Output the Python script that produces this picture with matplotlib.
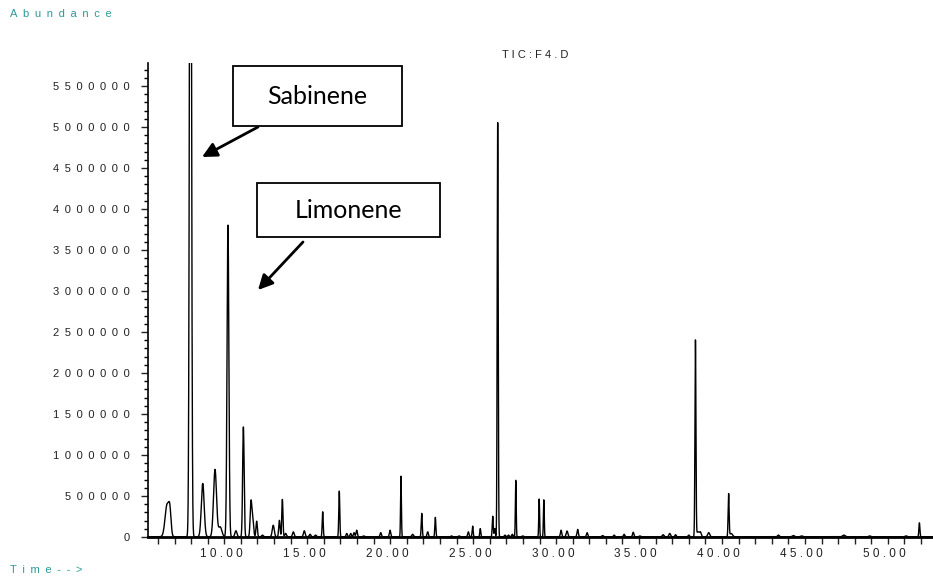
import numpy as np
import matplotlib
matplotlib.use('Agg')
from matplotlib import pyplot as plt
from matplotlib.patches import Rectangle
from matplotlib.ticker import MultipleLocator, FuncFormatter

# Peaks: retention time (min), abundance, width (min)
peak_times = [6.55, 6.72, 7.96, 8.70, 9.44, 9.75, 10.22, 10.70, 11.15, 11.61,
              11.72, 11.95, 12.30, 12.95, 13.32, 13.50, 13.70, 14.16, 14.82, 15.17,
              15.50, 15.93, 16.93, 17.38, 17.62, 17.82, 17.98, 18.40, 19.43, 19.99,
              20.65, 21.35, 21.90, 22.26, 22.72, 23.70, 24.15, 24.71, 24.97, 25.43,
              26.18, 26.30, 26.48, 26.92, 27.13, 27.36, 27.57, 27.99, 28.98, 29.26,
              30.30, 30.66, 31.30, 31.87, 32.80, 33.50, 34.10, 34.65, 35.05, 36.45,
              36.85, 37.20, 38.00, 38.40, 38.55, 38.70, 39.20, 40.40, 40.55, 43.40,
              44.30, 44.80, 47.35, 48.90, 51.10, 51.90]
peak_heights = [390000, 250000, 12000000, 650000, 820000, 120000, 3800000, 73000, 1340000, 430000,
                200000, 190000, 20000, 140000, 200000, 455000, 40000, 60000, 73000, 30000,
                20000, 305000, 557000, 40000, 40000, 50000, 80000, 10000, 50000, 80000,
                740000, 30000, 285000, 60000, 236000, 10000, 10000, 60000, 130000, 100000,
                250000, 100000, 5050000, 20000, 20000, 30000, 690000, 10000, 460000, 450000,
                80000, 70000, 90000, 50000, 15000, 20000, 30000, 55000, 10000, 25000,
                40000, 25000, 20000, 2390000, 60000, 50000, 50000, 520000, 40000, 20000,
                15000, 10000, 20000, 10000, 10000, 170000]
peak_widths = [0.12, 0.07, 0.055, 0.085, 0.09, 0.10, 0.055, 0.06, 0.045, 0.05,
               0.05, 0.04, 0.05, 0.06, 0.04, 0.035, 0.05, 0.05, 0.05, 0.05,
               0.05, 0.03, 0.03, 0.04, 0.04, 0.04, 0.04, 0.05, 0.04, 0.04,
               0.025, 0.05, 0.03, 0.04, 0.03, 0.04, 0.04, 0.04, 0.03, 0.03,
               0.03, 0.03, 0.03, 0.04, 0.04, 0.04, 0.025, 0.04, 0.025, 0.025,
               0.04, 0.05, 0.04, 0.04, 0.05, 0.04, 0.04, 0.04, 0.04, 0.05,
               0.05, 0.04, 0.04, 0.03, 0.08, 0.05, 0.06, 0.03, 0.08, 0.05,
               0.06, 0.06, 0.08, 0.06, 0.06, 0.03]

x_major = [10, 15, 20, 25, 30, 35, 40, 45, 50]
y_major = [0, 500000, 1000000, 1500000, 2000000, 2500000, 3000000,
           3500000, 4000000, 4500000, 5000000, 5500000]

EN = '\u2002'
teal = '#2b9a98'
font_list = ['Liberation Sans', 'DejaVu Sans']

# Build the trace from the peak list
t = np.arange(5.40, 52.72, 0.004)
signal = np.full_like(t, 3000.0)
for tc, h, w in zip(peak_times, peak_heights, peak_widths):
    signal += h * np.exp(-0.5 * ((t - tc) / w) ** 2)

fig = plt.figure(figsize=(9.33, 5.81), dpi=100)
ax = fig.add_axes([148 / 933, 44 / 581, 785 / 933, 474 / 581])
ax.plot(t, signal, color='black', lw=1.0)

ax.set_xlim(5.40, 52.72)
ax.set_ylim(0, 5780000)

for side in ['top', 'right']:
    ax.spines[side].set_visible(False)
ax.spines['bottom'].set_linewidth(2.0)
ax.spines['left'].set_linewidth(1.2)

ax.xaxis.set_major_locator(plt.FixedLocator(x_major))
ax.xaxis.set_minor_locator(MultipleLocator(1))
ax.yaxis.set_major_locator(plt.FixedLocator(y_major))
ax.yaxis.set_minor_locator(MultipleLocator(100000))

# trailing space nudges the time labels a little left, as in the original
ax.xaxis.set_major_formatter(FuncFormatter(lambda v, p: ' '.join(f'{v:.2f}') + '  '))
ax.yaxis.set_major_formatter(FuncFormatter(lambda v, p: EN.join(f'{int(v)}')))

ax.tick_params(axis='x', which='both', direction='out', length=5, width=1,
               labelsize=8.5, pad=3, colors='#222222')
ax.tick_params(axis='y', which='major', direction='out', length=5, width=1,
               labelsize=8, pad=8, colors='#222222')
ax.tick_params(axis='y', which='minor', direction='out', length=3, width=1)
for lab in ax.get_xticklabels() + ax.get_yticklabels():
    lab.set_family(font_list)

# Header texts
fig.text(10 / 933, 1 - 14 / 581, EN.join('Abundance'), color=teal, fontsize=8,
         family=font_list, va='center', ha='left')
fig.text(10 / 933, 1 - 570 / 581, EN.join('Time-->'), color=teal, fontsize=8,
         family=font_list, va='center', ha='left')
fig.text(535 / 933, 1 - 55 / 581, 'T I C : F 4 . D', color='#222222', fontsize=8,
         family=font_list, va='center', ha='center')

# Labelled boxes with arrows
boxes = [('Sabinene', (233, 66, 169, 60), (258, 127), (202, 157)),
         ('Limonene', (257, 183, 183, 54), (303, 242), (258, 290))]
for name, (bx, by, bw, bh), tail, head in boxes:
    rect = Rectangle((bx / 933, 1 - (by + bh) / 581), bw / 933, bh / 581,
                     transform=fig.transFigure, facecolor='white',
                     edgecolor='black', lw=1.3)
    fig.add_artist(rect)
    fig.text((bx + bw / 2) / 933, 1 - (by + bh / 2) / 581, name, fontsize=18,
             family=['Lato', 'DejaVu Sans'], ha='center', va='center')
    ax.annotate('', xy=(head[0] / 933, 1 - head[1] / 581),
                xytext=(tail[0] / 933, 1 - tail[1] / 581),
                xycoords='figure fraction', textcoords='figure fraction',
                arrowprops=dict(arrowstyle='-|>', lw=2, color='black',
                                mutation_scale=22, shrinkA=0, shrinkB=0))

fig.savefig('out.png', dpi=100)
